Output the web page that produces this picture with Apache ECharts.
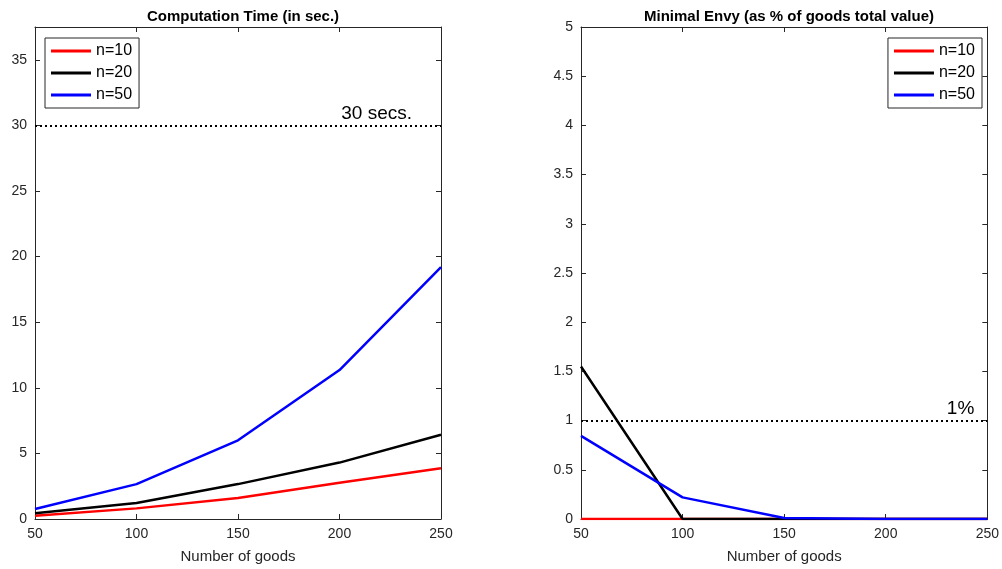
<!DOCTYPE html>
<html>
<head>
<meta charset="utf-8">
<script src="https://cdn.jsdelivr.net/npm/echarts@6/dist/echarts.min.js"></script>
<style>
  html, body { margin: 0; padding: 0; background: #fff; }
  #main { width: 1002px; height: 569px; }
</style>
</head>
<body>
<div id="main"></div>
<script>
// 数据
const goods = [50, 100, 150, 200, 250]
const seriesNames = ['n=10', 'n=20', 'n=50']
const seriesColors = ['#ff0000', '#000000', '#0000ff']
const timeN10 = [0.25, 0.81, 1.6, 2.77, 3.86]
const timeN20 = [0.43, 1.22, 2.66, 4.3, 6.42]
const timeN50 = [0.76, 2.66, 6.0, 11.35, 19.2]
const envyN10 = [0, 0, 0, 0, 0]
const envyN20 = [1.55, 0, 0, 0, 0]
const envyN50 = [0.845, 0.22, 0.01, 0, 0]
const timeLimit = 30
const envyLimit = 1

const font = 'Liberation Sans, Arial, sans-serif'
const axisColor = '#262626'

const pairs = (vals) => goods.map((g, i) => [g, vals[i]])

function xAxes (grid) {
  const base = {
    type: 'value', gridIndex: grid, min: 50, max: 250, interval: 50,
    splitLine: { show: false },
    axisLine: { show: true, onZero: false, lineStyle: { color: axisColor, width: 1 } },
    axisTick: { show: true, inside: true, length: 5, lineStyle: { color: axisColor } }
  }
  return [
    Object.assign({}, base, {
      position: 'bottom',
      name: 'Number of goods', nameLocation: 'middle', nameGap: 30,
      nameTextStyle: { color: axisColor, fontSize: 15, fontFamily: font },
      axisLabel: { color: axisColor, fontSize: 14, fontFamily: font, margin: 8 }
    }),
    Object.assign({}, base, { position: 'top', axisLabel: { show: false } })
  ]
}

function yAxes (grid, max, interval) {
  const base = {
    type: 'value', gridIndex: grid, min: 0, max: max, interval: interval,
    splitLine: { show: false },
    axisLine: { show: true, lineStyle: { color: axisColor, width: 1 } },
    axisTick: { show: true, inside: true, length: 5, lineStyle: { color: axisColor } }
  }
  return [
    Object.assign({}, base, {
      position: 'left',
      axisLabel: { color: axisColor, fontSize: 14, fontFamily: font, margin: 8, showMaxLabel: max % interval === 0 }
    }),
    Object.assign({}, base, { position: 'right', axisLabel: { show: false } })
  ]
}

function lineSeries (name, color, vals, xi, yi) {
  return {
    name: name, type: 'line', xAxisIndex: xi, yAxisIndex: yi,
    data: pairs(vals), symbol: 'none', z: 3,
    lineStyle: { color: color, width: 2.5 }, itemStyle: { color: color }
  }
}

function limitLine (value, text, xi, yi, dist) {
  return {
    type: 'line', xAxisIndex: xi, yAxisIndex: yi, data: [], z: 2,
    markLine: {
      silent: true, symbol: 'none',
      lineStyle: { color: '#000', width: 2, type: [2, 3] },
      label: {
        show: true, position: 'insideEndTop', formatter: text,
        color: '#000', fontSize: 19, fontFamily: font, distance: dist
      },
      data: [{ yAxis: value }]
    }
  }
}

function legend (opts) {
  return Object.assign({
    orient: 'vertical', data: seriesNames, icon: 'rect',
    itemWidth: 40, itemHeight: 3, itemGap: 6, padding: [5, 7, 5, 6],
    backgroundColor: '#fff', borderColor: '#262626', borderWidth: 1,
    textStyle: { fontSize: 16, fontFamily: font, color: '#000', lineHeight: 16 }
  }, opts)
}

const myChart = echarts.init(document.getElementById('main'))
myChart.setOption({
  animation: false,
  title: [
    { text: 'Computation Time (in sec.)', left: 238, top: 4, textAlign: 'center',
      textStyle: { fontSize: 15, fontWeight: 'bold', fontFamily: font, color: '#000' } },
    { text: 'Minimal Envy (as % of goods total value)', left: 784, top: 4, textAlign: 'center',
      textStyle: { fontSize: 15, fontWeight: 'bold', fontFamily: font, color: '#000' } }
  ],
  legend: [
    legend({ left: 45, top: 38 }),
    legend({ right: 20, top: 38 })
  ],
  grid: [
    { left: 35, right: 561, top: 27, bottom: 49 },
    { left: 581, right: 14, top: 27, bottom: 49 }
  ],
  xAxis: xAxes(0).concat(xAxes(1)),
  yAxis: yAxes(0, 37.5, 5).concat(yAxes(1, 5, 0.5)),
  series: [
    limitLine(timeLimit, '30 secs.', 0, 0, [29, 2]),
    lineSeries('n=10', seriesColors[0], timeN10, 0, 0),
    lineSeries('n=20', seriesColors[1], timeN20, 0, 0),
    lineSeries('n=50', seriesColors[2], timeN50, 0, 0),
    limitLine(envyLimit, '1%', 2, 2, [13, 2]),
    lineSeries('n=10', seriesColors[0], envyN10, 2, 2),
    lineSeries('n=20', seriesColors[1], envyN20, 2, 2),
    lineSeries('n=50', seriesColors[2], envyN50, 2, 2)
  ]
})
</script>
</body>
</html>
